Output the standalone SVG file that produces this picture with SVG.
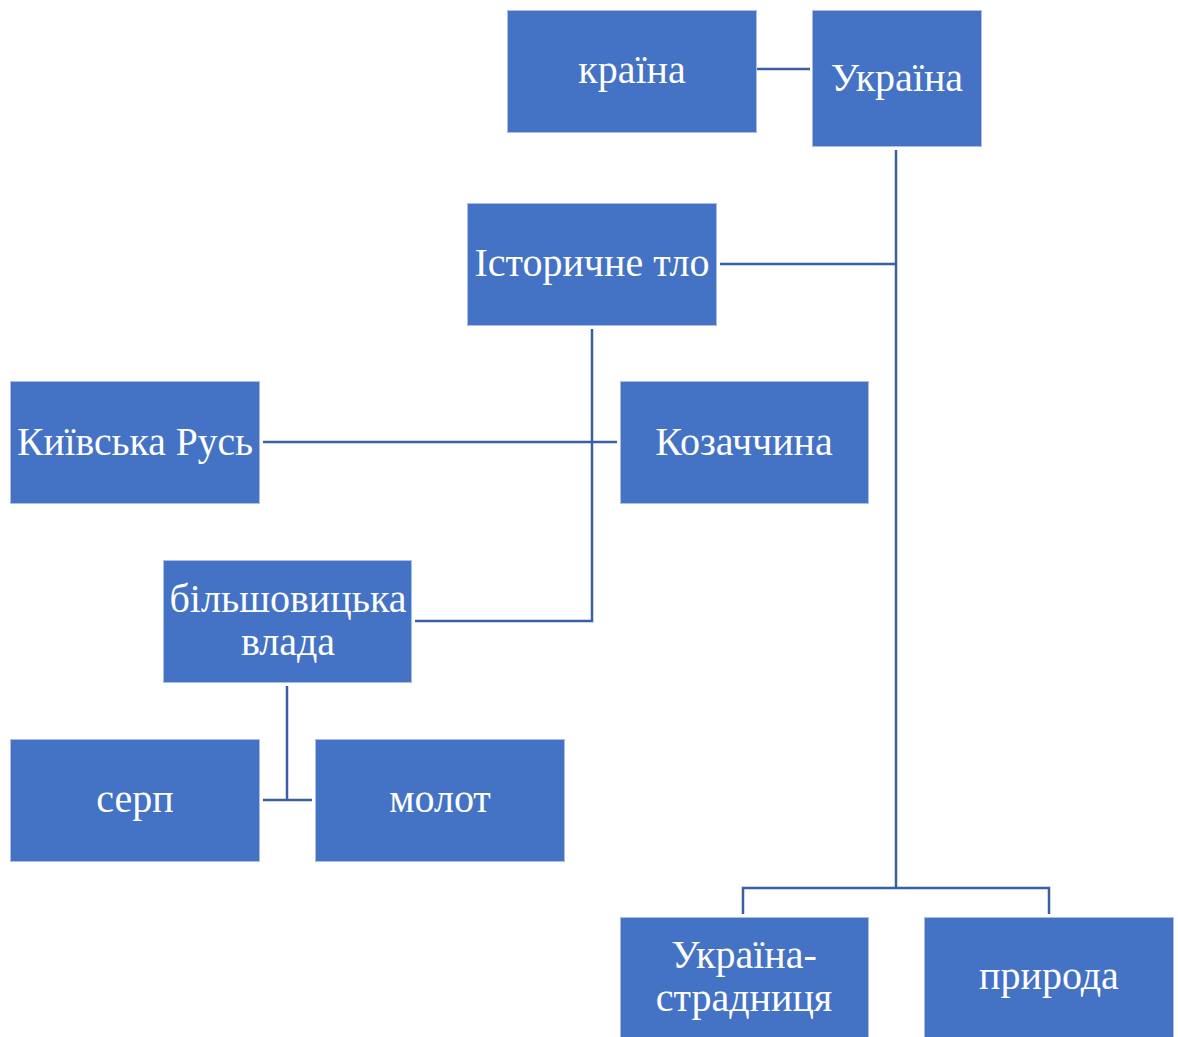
<svg xmlns="http://www.w3.org/2000/svg" width="1178" height="1037" viewBox="0 0 1178 1037">
<style>
.box{fill:#4472C4;stroke:#A9BFE6;stroke-width:1}
.t{font-family:"Liberation Serif","Times New Roman",serif;font-size:40px;fill:#FFFFFF;text-anchor:middle}
.c{fill:none;stroke:#3A5FA5;stroke-width:2.5}
</style>
<rect width="1178" height="1037" fill="#FFFFFF"/>
<g id="connectors">
<path class="c" d="M757 69H810"/>
<path class="c" d="M896 150V888"/>
<path class="c" d="M720 264H896"/>
<path class="c" d="M743 914V888H1049V914"/>
<path class="c" d="M592 329V621H415"/>
<path class="c" d="M263 442H617"/>
<path class="c" d="M287 686V800"/>
<path class="c" d="M263 800H312"/>
</g>
<g id="node-kraina"><rect class="box" x="507.5" y="10.5" width="249" height="122"/><text class="t" x="632" y="83">країна</text></g>
<g id="node-ukraina"><rect class="box" x="812.5" y="10.5" width="169" height="136"/><text class="t" x="897" y="91">Україна</text></g>
<g id="node-istorychne"><rect class="box" x="467.5" y="203.5" width="249" height="122"/><text class="t" x="592" y="276">Історичне тло</text></g>
<g id="node-kyivska"><rect class="box" x="10.5" y="381.5" width="249" height="122"/><text class="t" x="135" y="455" textLength="236" lengthAdjust="spacingAndGlyphs">Київська Русь</text></g>
<g id="node-kozachchyna"><rect class="box" x="620.5" y="381.5" width="248" height="122"/><text class="t" x="744" y="455">Козаччина</text></g>
<g id="node-bilshovytska"><rect class="box" x="163.5" y="560.5" width="248" height="122"/><text class="t" x="288" y="612">більшовицька</text><text class="t" x="288" y="655">влада</text></g>
<g id="node-serp"><rect class="box" x="10.5" y="739.5" width="249" height="122"/><text class="t" x="135" y="812">серп</text></g>
<g id="node-molot"><rect class="box" x="315.5" y="739.5" width="249" height="122"/><text class="t" x="440" y="812">молот</text></g>
<g id="node-stradnytsia"><rect class="box" x="620.5" y="917.5" width="248" height="122"/><text class="t" x="744" y="968">Україна-</text><text class="t" x="744" y="1011">страдниця</text></g>
<g id="node-pryroda"><rect class="box" x="924.5" y="917.5" width="249" height="122"/><text class="t" x="1049" y="989">природа</text></g>
</svg>
